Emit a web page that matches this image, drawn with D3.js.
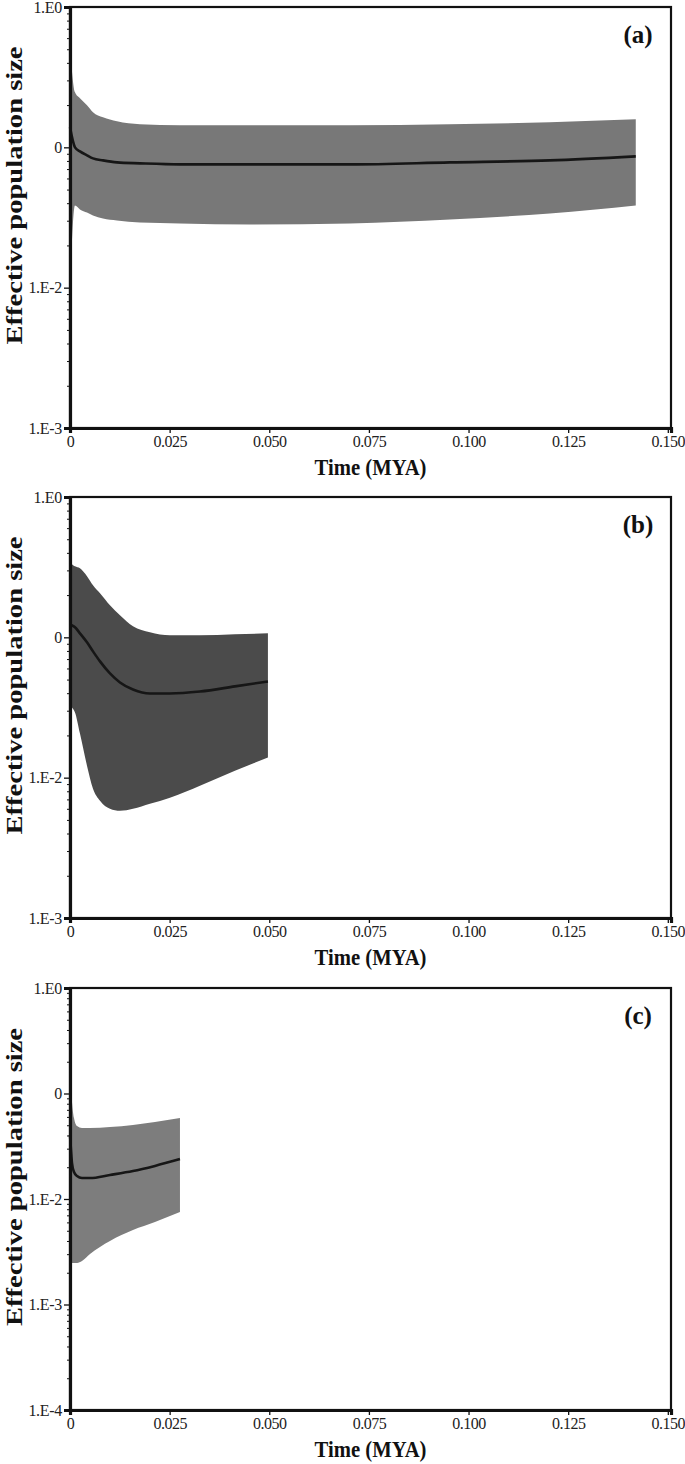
<!DOCTYPE html>
<html><head><meta charset="utf-8">
<script src="https://cdnjs.cloudflare.com/ajax/libs/d3/7.8.5/d3.min.js"></script>
<style>body{margin:0;background:#fff}svg{display:block}</style>
</head><body>
<svg id="chart" width="685" height="1464"></svg>
<script>
// ---------- data ----------
const panelLabels = ["(a)", "(b)", "(c)"];
const xTickValues = [0, 0.025, 0.050, 0.075, 0.100, 0.125, 0.150];
const xTickLabels = ["0", "0.025", "0.050", "0.075", "0.100", "0.125", "0.150"];
const yTickValuesAB = [1, 0.1, 0.01, 0.001];
const yTickLabelsAB = ["1.E0", "0", "1.E-2", "1.E-3"];
const yTickValuesC = [1, 0.1, 0.01, 0.001, 0.0001];
const yTickLabelsC = ["1.E0", "0", "1.E-2", "1.E-3", "1.E-4"];

// panel (a)
const timeA   = [0, 0.00125, 0.0025, 0.00426, 0.00577, 0.00828, 0.01179, 0.01756, 0.02759, 0.04515, 0.07023, 0.09531, 0.12039, 0.14196];
const upperA  = [0.518, 0.247, 0.224, 0.1995, 0.178, 0.1637, 0.1533, 0.146, 0.1436, 0.1436, 0.1436, 0.146, 0.1509, 0.1585];
const medianA = [0.139, 0.100, 0.0936, 0.0877, 0.0834, 0.0807, 0.0781, 0.0769, 0.0756, 0.0756, 0.0756, 0.0781, 0.0807, 0.0862];
const lowerA  = [0.00952, 0.0385, 0.0361, 0.0343, 0.0327, 0.0311, 0.0301, 0.0291, 0.0287, 0.0282, 0.0287, 0.0306, 0.0338, 0.0385];

// panel (b)
const timeB   = [0, 0.0005, 0.00125, 0.0025, 0.00426, 0.00577, 0.00753, 0.01003, 0.01254, 0.0158, 0.02006, 0.02508, 0.03261, 0.04138, 0.04966];
const upperB  = [0.355, 0.332, 0.321, 0.311, 0.273, 0.235, 0.206, 0.169, 0.1436, 0.1198, 0.1086, 0.1033, 0.1033, 0.1050, 0.1068];
const medianB = [0.1238, 0.1218, 0.1179, 0.1068, 0.0921, 0.0794, 0.0674, 0.0553, 0.0477, 0.0425, 0.0398, 0.0398, 0.0411, 0.0447, 0.0485];
const lowerB  = [0.0327, 0.0316, 0.0291, 0.0206, 0.01218, 0.00835, 0.00685, 0.00601, 0.00581, 0.00601, 0.00652, 0.00720, 0.00877, 0.01122, 0.01390];

// panel (c)
const timeC   = [0, 0.00025, 0.0005, 0.001, 0.00176, 0.00301, 0.00502, 0.01003, 0.0158, 0.02132, 0.02759];
const upperC  = [0.167, 0.1128, 0.0831, 0.0586, 0.0492, 0.0471, 0.0471, 0.0481, 0.0503, 0.0537, 0.0586];
const medianC = [0.0404, 0.0291, 0.0219, 0.0180, 0.0165, 0.0158, 0.0158, 0.0169, 0.0184, 0.0206, 0.0239];
const lowerC  = [0.00247, 0.00247, 0.00247, 0.00247, 0.00247, 0.00258, 0.00301, 0.0040, 0.00508, 0.00605, 0.00753];

// ---------- layout ----------
const svg = d3.select("#chart");
const L = 70, R = 671;
const serif = "'Liberation Serif', 'Times New Roman', serif";
const panels = [
  {label: panelLabels[0], top: 7,   bottom: 428,  ymin: 0.001,  tv: yTickValuesAB, tl: yTickLabelsAB, t: timeA, up: upperA, md: medianA, lo: lowerA, fill: "#787878"},
  {label: panelLabels[1], top: 497, bottom: 918,  ymin: 0.001,  tv: yTickValuesAB, tl: yTickLabelsAB, t: timeB, up: upperB, md: medianB, lo: lowerB, fill: "#4b4b4b"},
  {label: panelLabels[2], top: 988, bottom: 1410, ymin: 0.0001, tv: yTickValuesC,  tl: yTickLabelsC,  t: timeC, up: upperC, md: medianC, lo: lowerC, fill: "#7d7d7d"}
];

const x = d3.scaleLinear().domain([0, 0.1508]).range([L, R]);

panels.forEach(p => {
  const y = d3.scaleLog().domain([p.ymin, 1]).range([p.bottom, p.top]);
  const g = svg.append("g");
  const pts = p.t.map((t, i) => ({t, up: p.up[i], md: p.md[i], lo: p.lo[i]}));

  g.append("path").datum(pts)
    .attr("fill", p.fill)
    .attr("d", d3.area().curve(d3.curveMonotoneX)
      .x(d => x(d.t)).y0(d => y(d.lo)).y1(d => y(d.up)));

  g.append("path").datum(pts)
    .attr("fill", "none").attr("stroke", "#161616").attr("stroke-width", 2.6)
    .attr("stroke-linejoin", "round")
    .attr("d", d3.line().curve(d3.curveMonotoneX).x(d => x(d.t)).y(d => y(d.md)));

  // frame
  g.append("rect").attr("x", L).attr("y", p.top).attr("width", R - L).attr("height", p.bottom - p.top)
    .attr("fill", "none").attr("stroke", "#111").attr("stroke-width", 2.2);

  // minor y ticks
  const minor = [];
  const dec0 = Math.round(Math.log10(p.ymin));
  for (let e = dec0; e < 0; e++) for (let k = 2; k <= 9; k++) minor.push(k * Math.pow(10, e));
  const yMinorAxis = d3.axisLeft(y).tickValues(minor).tickSize(3).tickFormat("");
  const gm = g.append("g").attr("transform", `translate(${L},0)`).call(yMinorAxis);
  gm.select(".domain").remove();
  gm.selectAll("line").attr("stroke", "#111").attr("stroke-width", 1);

  // major y ticks
  const yAxis = d3.axisLeft(y).tickValues(p.tv).tickSize(6).tickPadding(2)
    .tickFormat((d, i) => p.tl[i]);
  const gy = g.append("g").attr("transform", `translate(${L},0)`).call(yAxis);
  gy.select(".domain").attr("stroke", "#111").attr("stroke-width", 3.2);
  gy.selectAll("line").attr("stroke", "#111").attr("stroke-width", 1.3);
  gy.selectAll("text").attr("font-family", serif).attr("font-size", 16)
    .attr("letter-spacing", -0.3).attr("fill", "#222");

  // x axis
  const xAxis = d3.axisBottom(x).tickValues(xTickValues).tickSize(5).tickPadding(3)
    .tickFormat((d, i) => xTickLabels[i]);
  const gx = g.append("g").attr("transform", `translate(0,${p.bottom})`).call(xAxis);
  gx.select(".domain").attr("stroke", "#111").attr("stroke-width", 3.2);
  gx.selectAll("line").attr("stroke", "#111").attr("stroke-width", 1.3);
  gx.selectAll("text").attr("font-family", serif).attr("font-size", 16)
    .attr("letter-spacing", -0.5).attr("fill", "#222");

  // x title
  g.append("text").attr("x", (L + R) / 2).attr("y", p.bottom + 47)
    .attr("text-anchor", "middle").attr("font-family", serif)
    .attr("font-weight", "bold").attr("font-size", 24)
    .attr("textLength", 112).attr("lengthAdjust", "spacingAndGlyphs")
    .attr("fill", "#111").text("Time (MYA)");

  // y title
  const cy = (p.top + p.bottom) / 2 - 22;
  g.append("text").attr("transform", `translate(22,${cy}) rotate(-90)`)
    .attr("text-anchor", "middle").attr("font-family", serif)
    .attr("font-weight", "bold").attr("font-size", 24)
    .attr("textLength", 298).attr("lengthAdjust", "spacingAndGlyphs")
    .attr("fill", "#111").text("Effective population size");

  // panel label
  g.append("text").attr("x", 638).attr("y", p.top + 36)
    .attr("text-anchor", "middle").attr("font-family", serif)
    .attr("font-weight", "bold").attr("font-size", 25).attr("fill", "#111").text(p.label);
});
</script>
</body></html>
